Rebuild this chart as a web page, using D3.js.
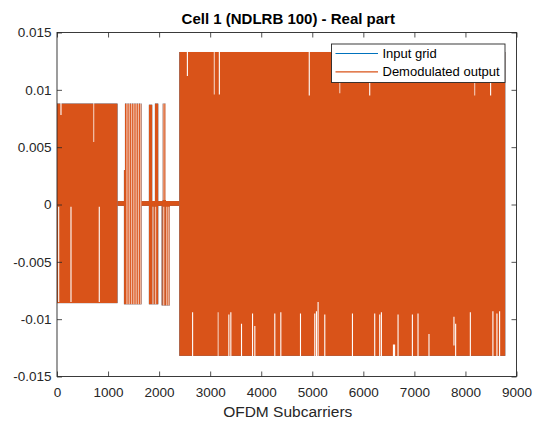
<!DOCTYPE html>
<html>
<head>
<meta charset="utf-8">
<script src="https://cdn.jsdelivr.net/npm/d3@7"></script>
<style>
  html, body { margin: 0; padding: 0; background: #fff; }
  svg { display: block; }
  text { font-family: "Liberation Sans", Arial, Helvetica, sans-serif; }
</style>
</head>
<body>
<svg id="chart" width="534" height="423"></svg>
<script>
// Real part of the resource grid, per OFDM subcarrier index.
// Each band: [firstSubcarrier, lastSubcarrier, min, max] of the oscillating signal.
const bands = [
  [0, 1185, -0.0086, 0.0088],          // symbol 0
  [1185, 2395, -0.00012, 0.0003],      // symbol 1, near-zero carriers
  [1311, 1331, -0.0087, 0.0030],
  [1331, 1657, -0.0087, 0.0088],
  [1800, 1865, -0.0087, 0.0087],
  [1865, 1918, -0.0087, 0.0003],
  [1918, 1983, -0.0087, 0.0088],
  [2050, 2068, -0.0088, 0.0003],
  [2068, 2133, -0.0088, 0.0088],
  [2133, 2210, -0.0088, 0.0003],
  [2395, 8780, -0.0132, 0.0133]        // data symbols
];

// Subcarrier runs where the trace does not reach: [subcarrier, from, to].
const gaps = [
  [33, -0.0002, -0.0085], [78, 0.0089, 0.0078], [274, -0.0002, -0.0085], [828, -0.0002, -0.0085],
  [2554, 0.0135, 0.0112], [3180, 0.0135, 0.0096], [4941, 0.0135, 0.0095], [6125, 0.0135, 0.0095],
  [8493, 0.0135, 0.0095],
  [2656, -0.0135, -0.0094], [3366, -0.0135, -0.0096], [3405, -0.0135, -0.0094],
  [3614, -0.0135, -0.0104], [3830, -0.0135, -0.0095], [3875, -0.0135, -0.0106],
  [4266, -0.0135, -0.0095], [4384, -0.0135, -0.0094], [4769, -0.0135, -0.0095],
  [5049, -0.0135, -0.0095], [5082, -0.0135, -0.0093], [5114, -0.0135, -0.0085],
  [5245, -0.0135, -0.0096], [5787, -0.0135, -0.0095], [6223, -0.0135, -0.0095],
  [6321, -0.0135, -0.0096], [6354, -0.0135, -0.0094], [6590, -0.0135, -0.0122],
  [6612, -0.0135, -0.0122], [6680, -0.0135, -0.0096], [6961, -0.0135, -0.0096],
  [7071, -0.0135, -0.0095], [7286, -0.0135, -0.0113], [7775, -0.0098, -0.0123],
  [7808, -0.0135, -0.0104], [8096, -0.0135, -0.0094], [8538, -0.0135, -0.0093],
  [8617, -0.0135, -0.0095], [8669, -0.0135, -0.0093]
];

// Narrower runs, rendered as partially covered pixels.
const faintGaps = [
  [718, 0.0089, 0.00545],
  [1370, 0.0089, -0.0087], [1415, 0.0089, -0.0087], [1460, 0.0089, -0.0087],
  [1505, 0.0089, -0.0087], [1550, 0.0089, -0.0087], [1595, 0.0089, -0.0087],
  [1640, 0.0089, -0.0087],
  [1880, -0.0002, -0.0087], [1930, -0.0002, -0.0087],
  [2075, 0.0089, 0.0004], [2120, 0.0089, 0.0004],
  [2090, -0.0002, -0.0088], [2150, -0.0002, -0.0088], [2190, -0.0002, -0.0088],
  [3082, 0.0135, 0.0096], [5538, 0.0135, 0.0097], [8180, 0.0135, 0.0095],
  [3157, -0.0135, -0.0094]
];

const seriesNames = ["Input grid", "Demodulated output"];
const seriesColors = ["#0072BD", "#D95319"];
const xTicks = [0, 1000, 2000, 3000, 4000, 5000, 6000, 7000, 8000, 9000];
const yTicks = [-0.015, -0.01, -0.005, 0, 0.005, 0.01, 0.015];
const yTickLabels = ["-0.015", "-0.01", "-0.005", "0", "0.005", "0.01", "0.015"];
const titleText = "Cell 1 (NDLRB 100) - Real part";
const xLabelText = "OFDM Subcarriers";

const svg = d3.select("#chart");
const plot = { left: 57, right: 516.5, top: 32.5, bottom: 376.5 };
const axisColor = "#262626";

const x = d3.scaleLinear().domain([0, 9000]).range([plot.left, plot.right]);
const y = d3.scaleLinear().domain([-0.015, 0.015]).range([plot.bottom, plot.top]);

// Clip the traces to the axes box
svg.append("clipPath").attr("id", "plotClip")
  .append("rect")
  .attr("x", plot.left).attr("y", plot.top)
  .attr("width", plot.right - plot.left).attr("height", plot.bottom - plot.top);

const traces = svg.append("g").attr("clip-path", "url(#plotClip)");

// Both series share the same envelope; the demodulated output lies on top.
seriesColors.forEach((color, i) => {
  traces.append("g")
    .selectAll("rect")
    .data(bands)
    .join("rect")
    .attr("x", d => x(d[0]))
    .attr("width", d => x(d[1]) - x(d[0]))
    .attr("y", d => y(d[3]))
    .attr("height", d => y(d[2]) - y(d[3]))
    .attr("fill", color);
});

traces.append("g")
  .selectAll("line")
  .data(gaps)
  .join("line")
  .attr("x1", d => x(d[0])).attr("x2", d => x(d[0]))
  .attr("y1", d => y(d[1])).attr("y2", d => y(d[2]))
  .attr("stroke", "#fff")
  .attr("stroke-width", 1.1);

traces.append("g")
  .selectAll("line")
  .data(faintGaps)
  .join("line")
  .attr("x1", d => x(d[0])).attr("x2", d => x(d[0]))
  .attr("y1", d => y(d[1])).attr("y2", d => y(d[2]))
  .attr("stroke", "#fff")
  .attr("stroke-opacity", 0.6)
  .attr("stroke-width", 1.3);

// Axes box with inward ticks on all four sides
function styleAxis(g) {
  g.select(".domain").remove();
  g.selectAll(".tick line").attr("stroke", axisColor).attr("stroke-width", 0.8);
  g.selectAll(".tick text")
    .attr("fill", axisColor)
    .style("font-size", "13.5px");
}

svg.append("g")
  .attr("transform", `translate(0,${plot.bottom})`)
  .call(d3.axisBottom(x).tickValues(xTicks).tickSize(-5).tickPadding(10.5).tickFormat(d3.format("d")))
  .call(styleAxis);

svg.append("g")
  .attr("transform", `translate(0,${plot.top})`)
  .call(d3.axisTop(x).tickValues(xTicks).tickSize(-5).tickFormat(""))
  .call(styleAxis);

svg.append("g")
  .attr("transform", `translate(${plot.left},0)`)
  .call(d3.axisLeft(y).tickValues(yTicks).tickSize(-5).tickPadding(5.5)
    .tickFormat((d, i) => yTickLabels[i]))
  .call(styleAxis);

svg.append("g")
  .attr("transform", `translate(${plot.right},0)`)
  .call(d3.axisRight(y).tickValues(yTicks).tickSize(-5).tickFormat(""))
  .call(styleAxis);

svg.append("rect")
  .attr("x", plot.left).attr("y", plot.top)
  .attr("width", plot.right - plot.left).attr("height", plot.bottom - plot.top)
  .attr("fill", "none")
  .attr("stroke", axisColor)
  .attr("stroke-width", 0.9);

// Title and axis label
svg.append("text")
  .attr("x", (plot.left + plot.right) / 2 + 1.5)
  .attr("y", 24)
  .attr("text-anchor", "middle")
  .style("font-size", "15px")
  .style("font-weight", "bold")
  .attr("fill", "#000")
  .text(titleText);

svg.append("text")
  .attr("x", (plot.left + plot.right) / 2 + 1)
  .attr("y", 417)
  .attr("text-anchor", "middle")
  .style("font-size", "15.5px")
  .attr("fill", axisColor)
  .text(xLabelText);

// Legend
const legend = { x: 331.5, y: 44, w: 173.5, h: 38.5 };
const lg = svg.append("g");
lg.append("rect")
  .attr("x", legend.x).attr("y", legend.y)
  .attr("width", legend.w).attr("height", legend.h)
  .attr("fill", "#fff")
  .attr("stroke", axisColor)
  .attr("stroke-width", 0.9);

const rowY = [53.5, 71.8];
seriesNames.forEach((name, i) => {
  lg.append("line")
    .attr("x1", legend.x + 4).attr("x2", legend.x + 46.5)
    .attr("y1", rowY[i]).attr("y2", rowY[i])
    .attr("stroke", seriesColors[i])
    .attr("stroke-width", 1.2);
  lg.append("text")
    .attr("x", legend.x + 51)
    .attr("y", rowY[i])
    .attr("dy", "0.35em")
    .style("font-size", "13px")
    .attr("fill", "#000")
    .text(name);
});
</script>
</body>
</html>
